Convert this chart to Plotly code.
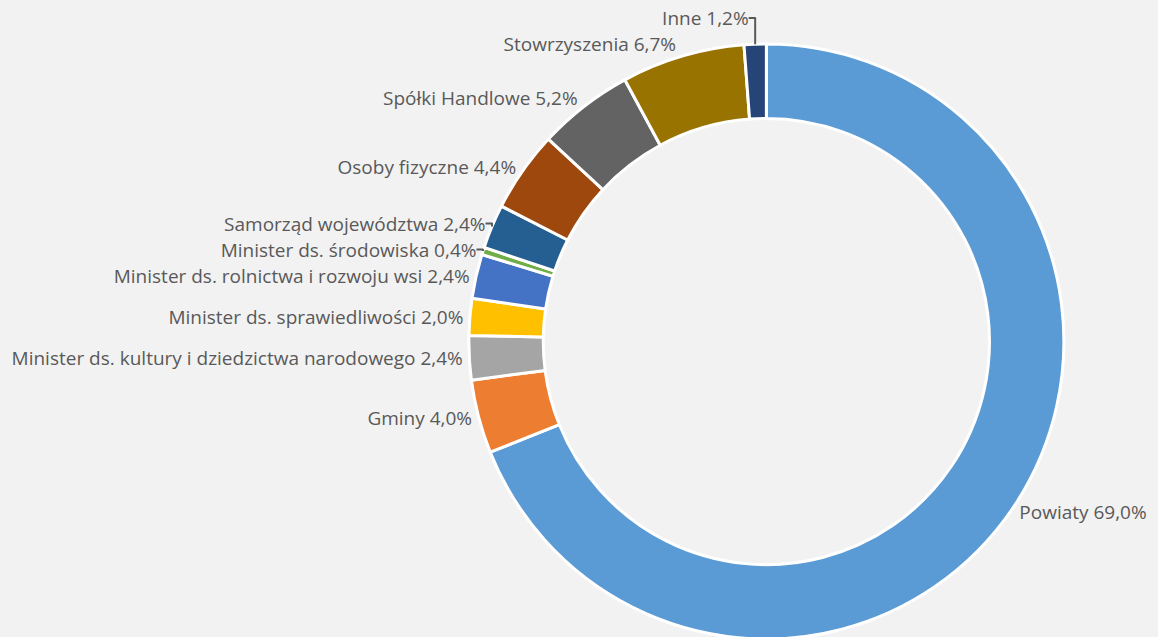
import plotly.graph_objects as go

labels = ["Powiaty", "Gminy", "Minister ds. kultury i dziedzictwa narodowego",
          "Minister ds. sprawiedliwości", "Minister ds. rolnictwa i rozwoju wsi",
          "Minister ds. środowiska", "Samorząd województwa", "Osoby fizyczne",
          "Spółki Handlowe", "Stowrzyszenia", "Inne"]
values = [69.0, 4.0, 2.4, 2.0, 2.4, 0.4, 2.4, 4.4, 5.2, 6.7, 1.2]
colors = ["#5B9BD5", "#ED7D31", "#A5A5A5", "#FFC000", "#4472C4", "#70AD47",
          "#255E91", "#9E480E", "#636363", "#997300", "#264478"]

# etykiety z przecinkiem dziesietnym
txt = [l + " " + f"{v:.1f}".replace(".", ",") + "%" for l, v in zip(labels, values)]

# dol pierscienia jest uciety jak na oryginale, wiec wykres jest troche wyzszy od okna
fig = go.Figure(go.Pie(
    labels=labels,
    values=values,
    text=txt,
    textinfo="text",
    textposition="outside",
    hole=0.75,
    sort=False,
    direction="clockwise",
    rotation=0,
    marker=dict(colors=colors, line=dict(color="white", width=3)),
    outsidetextfont=dict(family="Open Sans", size=19, color="#595959"),
    domain=dict(x=[(766 - 306) / 1158, (766 + 306) / 1158], y=[0, 1]),
    hoverinfo="label+percent",
))

fig.update_layout(
    width=1158, height=644,
    margin=dict(l=0, r=0, t=32, b=0),
    paper_bgcolor="#F2F2F2",
    plot_bgcolor="#F2F2F2",
    showlegend=False,
)

fig.write_html("out.html", config={"displayModeBar": False},
               post_script="document.body.style.margin='0';document.body.style.overflow='hidden';")
